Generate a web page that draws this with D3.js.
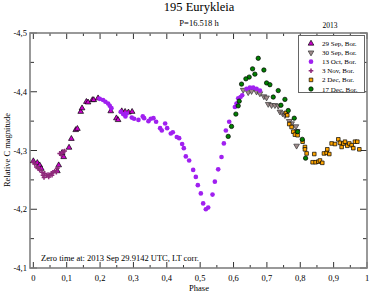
<!DOCTYPE html>
<html>
<head>
<meta charset="utf-8">
<script src="https://cdn.jsdelivr.net/npm/d3@7"></script>
<style>
body { margin: 0; background: #fff; }
</style>
</head>
<body>
<script>
// phase, relative C magnitude
var sep29 = [[0.000,-4.282],[0.012,-4.279],[0.019,-4.275],[0.024,-4.269],[0.072,-4.265],[0.076,-4.275],
  [0.086,-4.296],[0.091,-4.289],[0.107,-4.305],[0.114,-4.320],[0.127,-4.335],[0.132,-4.337],[0.142,-4.366],
  [0.146,-4.372],[0.159,-4.383],[0.164,-4.382],[0.177,-4.386],[0.181,-4.386],[0.194,-4.389],[0.232,-4.367],
  [0.249,-4.355],[0.254,-4.352],[0.265,-4.367],[0.275,-4.366],[0.285,-4.365],[0.296,-4.366]];
var sep30 = [[0.629,-4.403],[0.644,-4.399],[0.654,-4.401],[0.669,-4.400],[0.679,-4.397],[0.691,-4.392],
  [0.699,-4.390],[0.704,-4.379],[0.714,-4.377],[0.724,-4.377],[0.734,-4.376],[0.739,-4.366],[0.747,-4.363],
  [0.754,-4.360],[0.767,-4.350],[0.774,-4.346],[0.787,-4.341],[0.791,-4.333],[0.789,-4.308]];
var oct13 = [[0.199,-4.388],[0.209,-4.386],[0.216,-4.383],[0.224,-4.380],[0.229,-4.376],[0.234,-4.372],
  [0.262,-4.366],[0.269,-4.362],[0.276,-4.358],[0.280,-4.363],[0.295,-4.356],[0.302,-4.354],[0.315,-4.352],
  [0.328,-4.358],[0.332,-4.355],[0.345,-4.350],[0.352,-4.354],[0.360,-4.355],[0.368,-4.349],[0.380,-4.338],
  [0.385,-4.334],[0.395,-4.346],[0.401,-4.338],[0.412,-4.329],[0.418,-4.331],[0.430,-4.323],[0.437,-4.321],
  [0.446,-4.311],[0.451,-4.304],[0.457,-4.290],[0.467,-4.283],[0.479,-4.267],[0.487,-4.255],[0.493,-4.241],
  [0.502,-4.227],[0.509,-4.210],[0.517,-4.200],[0.524,-4.203],[0.537,-4.225],[0.544,-4.247],[0.554,-4.268],
  [0.564,-4.289],[0.571,-4.312],[0.577,-4.334],[0.587,-4.349],[0.604,-4.374],[0.609,-4.380],[0.614,-4.389],
  [0.621,-4.391],[0.626,-4.394],[0.639,-4.405],[0.649,-4.407],[0.659,-4.407],[0.669,-4.405],[0.679,-4.402]];
var nov3 = [[0.000,-4.280],[0.004,-4.277],[0.009,-4.272],[0.014,-4.270],[0.019,-4.267],[0.026,-4.263],
  [0.029,-4.258],[0.032,-4.254],[0.034,-4.261],[0.039,-4.257],[0.044,-4.259],[0.046,-4.255],[0.049,-4.258],
  [0.054,-4.261],[0.056,-4.258],[0.059,-4.263],[0.064,-4.265],[0.069,-4.263],[0.072,-4.270],[0.079,-4.295],
  [0.084,-4.292],[0.089,-4.298],[0.094,-4.299]];
var dec2 = [[0.757,-4.364],[0.761,-4.360],[0.767,-4.345],[0.774,-4.340],[0.779,-4.332],[0.784,-4.327],
  [0.792,-4.326],[0.807,-4.315],[0.814,-4.306],[0.814,-4.302],[0.819,-4.295],[0.842,-4.294],[0.837,-4.280],
  [0.846,-4.280],[0.854,-4.281],[0.859,-4.283],[0.866,-4.279],[0.871,-4.295],[0.879,-4.296],[0.887,-4.294],
  [0.881,-4.302],[0.894,-4.312],[0.904,-4.311],[0.914,-4.319],[0.919,-4.313],[0.924,-4.306],[0.929,-4.312],
  [0.934,-4.315],[0.941,-4.308],[0.947,-4.312],[0.954,-4.309],[0.959,-4.304],[0.964,-4.315],[0.971,-4.315],
  [0.977,-4.302]];
var dec17 = [[0.674,-4.457],[0.657,-4.439],[0.664,-4.430],[0.691,-4.437],[0.647,-4.425],[0.637,-4.422],
  [0.624,-4.413],[0.699,-4.415],[0.709,-4.412],[0.734,-4.402],[0.719,-4.391],[0.754,-4.387],[0.617,-4.384],
  [0.614,-4.376],[0.607,-4.362],[0.764,-4.368],[0.782,-4.355],[0.594,-4.341],[0.584,-4.324],[0.792,-4.332],
  [0.806,-4.319],[0.816,-4.287],[0.742,-4.377]];

var xTicks = [0, 0.1, 0.2, 0.3, 0.4, 0.5, 0.6, 0.7, 0.8, 0.9, 1];
var xTickLabels = ["0", "0,1", "0,2", "0,3", "0,4", "0,5", "0,6", "0,7", "0,8", "0,9", "1"];
var yTicks = [-4.5, -4.4, -4.3, -4.2, -4.1];
var yTickLabels = ["-4,5", "-4,4", "-4,3", "-4,2", "-4,1"];
var legendNames = ["29 Sep, Bor.", "30 Sep, Bor.", "13 Oct, Bor.", "3 Nov, Bor.", "2 Dec, Bor.", "17 Dec, Bor."];

var width = 369, height = 291;
var svg = d3.select("body").append("svg").attr("width", width).attr("height", height)
  .attr("font-family", "'Liberation Serif', 'Times New Roman', serif");

var x = d3.scaleLinear().domain([-0.01, 1]).range([30, 367]);
var y = d3.scaleLinear().domain([-4.5, -4.1]).range([33, 268]);

var series = [
  {data: sep29, type: d3.symbolTriangle, size: 14, fill: "#cc00cc", stroke: "#000", rot: 0},
  {data: sep30, type: d3.symbolTriangle, size: 14, fill: "#a08c8c", stroke: "#333", rot: 180},
  {data: oct13, type: d3.symbolCircle, size: 17, fill: "#a020f0", stroke: "none", rot: 0},
  {data: nov3, type: d3.symbolCross, size: 12, fill: "#8e2a7a", stroke: "none", rot: 0},
  {data: dec2, type: d3.symbolSquare, size: 13, fill: "#ffa500", stroke: "#000", rot: 0},
  {data: dec17, type: d3.symbolCircle, size: 15, fill: "#008000", stroke: "#000", rot: 0}
];

// axes ticks (inward)
var minorX = d3.range(0.05, 1, 0.1);
var minorY = [-4.45, -4.35, -4.25, -4.15];
var tk = svg.append("g").attr("stroke", "#333").attr("stroke-width", 1);
xTicks.forEach(function(t){
  tk.append("line").attr("x1", x(t)).attr("x2", x(t)).attr("y1", 268).attr("y2", 262);
  tk.append("line").attr("x1", x(t)).attr("x2", x(t)).attr("y1", 33).attr("y2", 39);
});
minorX.forEach(function(t){
  tk.append("line").attr("x1", x(t)).attr("x2", x(t)).attr("y1", 268).attr("y2", 265);
  tk.append("line").attr("x1", x(t)).attr("x2", x(t)).attr("y1", 33).attr("y2", 36);
});
yTicks.forEach(function(t){
  tk.append("line").attr("x1", 30).attr("x2", 37).attr("y1", y(t)).attr("y2", y(t));
  tk.append("line").attr("x1", 367).attr("x2", 360).attr("y1", y(t)).attr("y2", y(t));
});
minorY.forEach(function(t){
  tk.append("line").attr("x1", 30).attr("x2", 34).attr("y1", y(t)).attr("y2", y(t));
  tk.append("line").attr("x1", 367).attr("x2", 363).attr("y1", y(t)).attr("y2", y(t));
});

// frame
svg.append("rect").attr("x", 30).attr("y", 33).attr("width", 337).attr("height", 235)
  .attr("fill", "none").attr("stroke", "#808080").attr("stroke-width", 1.6);

// points
series.forEach(function(s){
  var sym = d3.symbol().type(s.type).size(s.size);
  svg.append("g").selectAll("path").data(s.data).enter().append("path")
    .attr("d", sym)
    .attr("transform", function(d){ return "translate(" + x(d[0]) + "," + y(d[1]) + ") rotate(" + s.rot + ")"; })
    .attr("fill", s.fill).attr("stroke", s.stroke).attr("stroke-width", 0.7);
});

// tick labels
svg.append("g").selectAll("text").data(xTicks).enter().append("text")
  .attr("x", function(d){ return x(d); }).attr("y", 280.5)
  .attr("text-anchor", "middle").attr("font-size", 8.5)
  .text(function(d, i){ return xTickLabels[i]; });
svg.append("g").selectAll("text").data(yTicks).enter().append("text")
  .attr("x", 27).attr("y", function(d){ return y(d) + 3; })
  .attr("text-anchor", "end").attr("font-size", 8.5)
  .text(function(d, i){ return yTickLabels[i]; });

// titles
svg.append("text").attr("x", 199).attr("y", 11).attr("text-anchor", "middle").attr("font-size", 12.5).text("195 Eurykleia");
svg.append("text").attr("x", 199).attr("y", 26).attr("text-anchor", "middle").attr("font-size", 8.5).text("P=16.518 h");
svg.append("text").attr("x", 330).attr("y", 28).attr("text-anchor", "middle").attr("font-size", 7.5).text("2013");
svg.append("text").attr("x", 199).attr("y", 290.5).attr("text-anchor", "middle").attr("font-size", 8.5).text("Phase");
svg.append("text").attr("transform", "translate(10,150) rotate(-90)").attr("text-anchor", "middle")
  .attr("font-size", 8.5).text("Relative C magnitude");
svg.append("text").attr("x", 41).attr("y", 261).attr("font-size", 8.5).text("Zero time at: 2013 Sep 29.9142 UTC, LT corr.");

// legend
var lg = svg.append("g");
lg.append("rect").attr("x", 298.5).attr("y", 35.5).attr("width", 66).attr("height", 57)
  .attr("fill", "#fff").attr("stroke", "#666").attr("stroke-width", 1);
var rows = lg.selectAll(".legends").data(series).enter().append("g").classed("legends", true)
  .attr("transform", function(d, i){ return "translate(0," + (43.5 + i * 9.1) + ")"; });
rows.append("path")
  .attr("d", function(d){ return d3.symbol().type(d.type).size(d.size)(); })
  .attr("transform", function(d){ return "translate(311,0) rotate(" + d.rot + ")"; })
  .attr("fill", function(d){ return d.fill; }).attr("stroke", function(d){ return d.stroke; }).attr("stroke-width", 0.7);
rows.append("text").attr("x", 322).attr("y", 2.5).attr("font-size", 7)
  .text(function(d, i){ return legendNames[i]; });
</script>
</body>
</html>
